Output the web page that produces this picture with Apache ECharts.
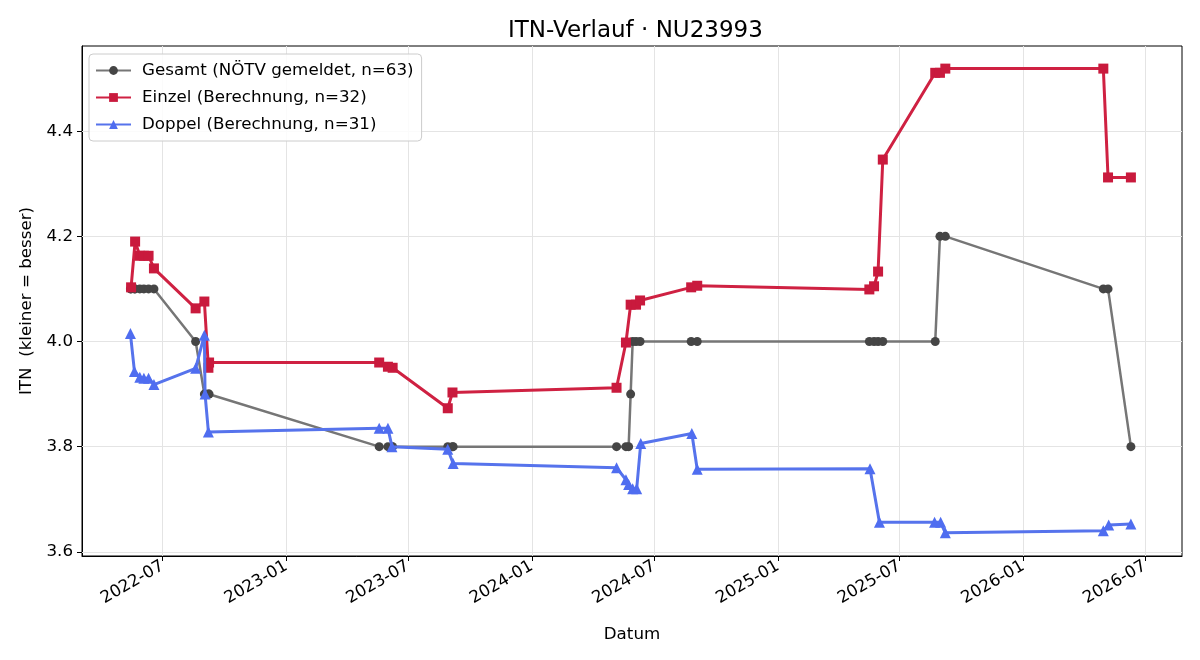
<!DOCTYPE html>
<html>
<head>
<meta charset="utf-8">
<script src="https://cdn.jsdelivr.net/npm/echarts@6/dist/echarts.min.js"></script>
<style>
    html, body { margin: 0; padding: 0; background: #fff; }
    #chart { width: 1200px; height: 660px; }
</style>
</head>
<body>
<div id="chart"></div>
<script>
// Gesamt (NÖTV gemeldet)
const gesamtDates = ['2022-05-14', '2022-05-15', '2022-05-20', '2022-05-21', '2022-05-28', '2022-06-03', '2022-06-10', '2022-06-18',
    '2022-08-19', '2022-09-01', '2022-09-02', '2022-09-07', '2022-09-08',
    '2023-05-19', '2023-06-01', '2023-06-07', '2023-06-08', '2023-08-29', '2023-09-05', '2023-09-06',
    '2024-05-06', '2024-05-20', '2024-05-24', '2024-05-27', '2024-05-30', '2024-06-04', '2024-06-10',
    '2024-08-25', '2024-09-03',
    '2025-05-17', '2025-05-24', '2025-05-30', '2025-06-06', '2025-08-23', '2025-08-30', '2025-09-07',
    '2026-04-30', '2026-05-07', '2026-06-10'];
const gesamtValues = [4.1, 4.1, 4.1, 4.1, 4.1, 4.1, 4.1, 4.1,
    4.0, 3.9, 3.9, 3.9, 3.9,
    3.8, 3.8, 3.8, 3.8, 3.8, 3.8, 3.8,
    3.8, 3.8, 3.8, 3.9, 4.0, 4.0, 4.0,
    4.0, 4.0,
    4.0, 4.0, 4.0, 4.0, 4.0, 4.2, 4.2,
    4.1, 4.1, 3.8];

// Einzel (Berechnung)
const einzelDates = ['2022-05-15', '2022-05-21', '2022-05-28', '2022-06-03', '2022-06-10', '2022-06-18', '2022-08-19', '2022-09-01',
    '2022-09-07', '2022-09-08', '2023-05-19', '2023-06-01', '2023-06-08', '2023-08-29', '2023-09-05',
    '2024-05-06', '2024-05-20', '2024-05-27', '2024-06-04', '2024-06-10', '2024-08-25', '2024-09-03',
    '2025-05-17', '2025-05-24', '2025-05-30', '2025-06-06', '2025-08-23', '2025-08-30', '2025-09-07',
    '2026-04-30', '2026-05-07', '2026-06-10'];
const einzelValues = [4.103, 4.19, 4.163, 4.163, 4.163, 4.139, 4.063, 4.076,
    3.95, 3.96, 3.96, 3.952, 3.95, 3.873, 3.903,
    3.912, 3.998, 4.07, 4.07, 4.078, 4.103, 4.106,
    4.099, 4.105, 4.133, 4.346, 4.511, 4.511, 4.519,
    4.519, 4.312, 4.312];

// Doppel (Berechnung)
const doppelDates = ['2022-05-14', '2022-05-20', '2022-05-28', '2022-06-03', '2022-06-10', '2022-06-18', '2022-08-19', '2022-09-01',
    '2022-09-02', '2022-09-07', '2023-05-19', '2023-06-01', '2023-06-07', '2023-08-29', '2023-09-06',
    '2024-05-06', '2024-05-20', '2024-05-24', '2024-05-30', '2024-06-05', '2024-06-11', '2024-08-26', '2024-09-03',
    '2025-05-18', '2025-06-01', '2025-08-22', '2025-08-31', '2025-09-07',
    '2026-04-30', '2026-05-08', '2026-06-10'];
const doppelValues = [4.015, 3.943, 3.932, 3.93, 3.93, 3.918, 3.949, 4.012,
    3.9, 3.828, 3.835, 3.835, 3.8, 3.795, 3.768,
    3.76, 3.737, 3.728, 3.72, 3.72, 3.806, 3.825, 3.757,
    3.758, 3.656, 3.656, 3.656, 3.636,
    3.64, 3.651, 3.653];

const xTicks = ['2022-07-01', '2023-01-01', '2023-07-01', '2024-01-01', '2024-07-01',
    '2025-01-01', '2025-07-01', '2026-01-01', '2026-07-01'];
const yTicks = [3.6, 3.8, 4.0, 4.2, 4.4];

const toTime = s => {
    let p = s.split('-');
    return Date.UTC(+p[0], +p[1] - 1, +p[2]);
};
const pairs = (dates, values) => dates.map((d, i) => [toTime(d), values[i]]);
const pad = n => (n < 10 ? '0' : '') + n;

const xTickTimes = xTicks.map(toTime);
const font = 'DejaVu Sans';

// light grid, drawn behind the lines
const gridLines = {
    silent: true,
    symbol: 'none',
    z: 1,
    animation: false,
    label: { show: false },
    lineStyle: { color: '#e4e4e4', width: 1, type: 'solid' },
    emphasis: { disabled: true },
    data: yTicks.map(v => ({ yAxis: v })).concat(xTickTimes.map(t => ({ xAxis: t })))
};

const chart = echarts.init(document.getElementById('chart'), null, { renderer: 'canvas' });

chart.setOption({
    animation: false,
    backgroundColor: '#fff',
    textStyle: { fontFamily: font },
    title: {
        text: 'ITN-Verlauf · NU23993',
        left: 503,
        top: 15,
        textStyle: { fontFamily: font, fontSize: 23, fontWeight: 'normal', color: '#000' }
    },
    legend: {
        orient: 'vertical',
        left: 89,
        top: 54,
        padding: [8, 8, 8, 6],
        itemGap: 10,
        itemWidth: 35,
        itemHeight: 11,
        backgroundColor: 'rgba(255,255,255,0.85)',
        borderColor: '#cccccc',
        borderWidth: 1,
        borderRadius: 4,
        textStyle: { fontFamily: font, fontSize: 16.7, color: '#000', padding: [0, 0, 0, 6] }
    },
    grid: {
        left: 82,
        right: 18,
        top: 46,
        bottom: 104,
        show: true,
        borderColor: '#000',
        borderWidth: 1
    },
    xAxis: {
        type: 'value',
        min: toTime('2022-03-03'),
        max: toTime('2026-08-25'),
        name: 'Datum',
        nameLocation: 'middle',
        nameGap: 70,
        nameTextStyle: { fontFamily: font, fontSize: 16.7, color: '#000' },
        axisLine: { show: true, onZero: false, lineStyle: { color: '#000', width: 1 } },
        axisTick: { show: true, length: 5, customValues: xTickTimes, lineStyle: { color: '#000' } },
        axisLabel: {
            customValues: xTickTimes,
            rotate: 30,
            margin: 9,
            fontFamily: font,
            fontSize: 16.7,
            color: '#000',
            formatter: v => {
                let d = new Date(v);
                return d.getUTCFullYear() + '-' + pad(d.getUTCMonth() + 1);
            }
        },
        splitLine: { show: false }
    },
    yAxis: {
        type: 'value',
        min: 3.592,
        max: 4.562,
        name: 'ITN  (kleiner = besser)',
        nameLocation: 'middle',
        nameGap: 47,
        nameTextStyle: { fontFamily: font, fontSize: 16.7, color: '#000' },
        axisLine: { show: true, onZero: false, lineStyle: { color: '#000', width: 1 } },
        axisTick: { show: true, length: 5, customValues: yTicks, lineStyle: { color: '#000' } },
        axisLabel: {
            customValues: yTicks,
            margin: 9,
            fontFamily: font,
            fontSize: 16.7,
            color: '#000',
            formatter: v => v.toFixed(1)
        },
        splitLine: { show: false }
    },
    series: [
        {
            name: 'Gesamt (NÖTV gemeldet, n=63)',
            type: 'line',
            data: pairs(gesamtDates, gesamtValues),
            symbol: 'circle',
            symbolSize: 9,
            showAllSymbol: true,
            lineStyle: { color: '#767676', width: 2.5 },
            itemStyle: { color: '#454545' },
            z: 3,
            markLine: gridLines
        },
        {
            name: 'Einzel (Berechnung, n=32)',
            type: 'line',
            data: pairs(einzelDates, einzelValues),
            symbol: 'rect',
            symbolSize: 10,
            showAllSymbol: true,
            lineStyle: { color: '#cf2142', width: 3 },
            itemStyle: { color: '#c91a3d' },
            z: 4
        },
        {
            name: 'Doppel (Berechnung, n=31)',
            type: 'line',
            data: pairs(doppelDates, doppelValues),
            symbol: 'triangle',
            symbolSize: 11,
            showAllSymbol: true,
            lineStyle: { color: '#5673ec', width: 3 },
            itemStyle: { color: '#4f6df0' },
            z: 5
        }
    ]
});
</script>
</body>
</html>
